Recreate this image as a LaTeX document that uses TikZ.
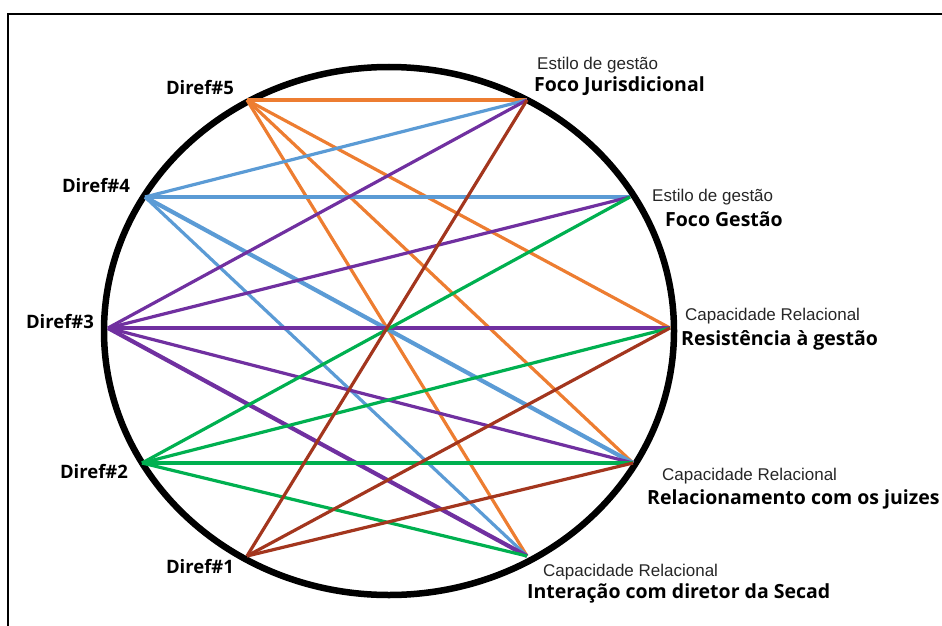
\documentclass[tikz,border=0pt]{standalone}
\usepackage{fontspec}
\setmainfont{Liberation Sans}
\setsansfont{Open Sans}

\definecolor{laranja}{HTML}{ED7D31}
\definecolor{azul}{HTML}{5B9BD5}
\definecolor{roxo}{HTML}{7030A0}
\definecolor{verde}{HTML}{00B050}
\definecolor{vinho}{HTML}{A3361E}

\begin{document}
\begin{tikzpicture}[x=1pt,y=-1pt,
    diref/.style={inner sep=0pt, font=\sffamily\bfseries\fontsize{18.5}{22}\selectfont},
    tema/.style={inner sep=0pt, anchor=west, text=black!85, font=\fontsize{17}{20}\selectfont},
    foco/.style={inner sep=0pt, anchor=west, font=\sffamily\bfseries\fontsize{19.5}{23}\selectfont},
    lig/.style={line width=3.2pt},
    ligforte/.style={line width=4.2pt}]
    \useasboundingbox (0,0) rectangle (942,626);

    % Moldura (so o topo e a esquerda aparecem)
    \draw[line width=2.2pt] (942,14) -- (8,14) -- (8,626);

    % Elipse
    \draw[line width=6.5pt] (389,331) ellipse [x radius=285pt, y radius=264pt];

    % Pontos sobre a elipse
    \coordinate (d5) at (247,100);
    \coordinate (d4) at (145,197);
    \coordinate (d3) at (108,328);
    \coordinate (d2) at (142,463);
    \coordinate (d1) at (247,556);
    \coordinate (fj) at (527,100);
    \coordinate (fg) at (630,197);
    \coordinate (rg) at (670,328);
    \coordinate (rj) at (633,463);
    \coordinate (is) at (527,556);

    % Ligacoes
    \foreach \b in {fj,rg,rj,is} \draw[lig, laranja] (d5) -- (\b);
    \foreach \b in {fj,fg,is} \draw[lig, azul] (d4) -- (\b);
    \draw[ligforte, azul] (d4) -- (rj);
    \foreach \b in {fj,fg,rg,rj} \draw[lig, roxo] (d3) -- (\b);
    \draw[ligforte, roxo] (d3) -- (is);
    \foreach \b in {fg,rg,is} \draw[lig, verde] (d2) -- (\b);
    \draw[ligforte, verde] (d2) -- (rj);
    \foreach \b in {fj,rg,rj} \draw[lig, vinho] (d1) -- (\b);

    % Rotulos da esquerda
    \node[diref] (l5) at (200,88) {Diref\#5};
    \node[diref] (l4) at (96,186) {Diref\#4};
    \node[diref] (l3) at (60,322) {Diref\#3};
    \node[diref] (l2) at (94,472) {Diref\#2};
    \node[diref] (l1) at (200,567) {Diref\#1};

    % Rotulos da direita
    \node[tema] (t1) at (537,65) {Estilo de gestão};
    \node[foco] (f1) at (534,86) {Foco Jurisdicional};
    \node[tema] (t2) at (652,197) {Estilo de gestão};
    \node[foco] (f2) at (665,219) {Foco Gestão};
    \node[tema] (t3) at (685,316) {Capacidade Relacional};
    \node[foco] (f3) at (681,340) {Resistência à gestão};
    \node[tema] (t4) at (662,476) {Capacidade Relacional};
    \node[foco] (f4) at (647,499) {Relacionamento com os juizes};
    \node[tema] (t5) at (543,572) {Capacidade Relacional};
    \node[foco] (f5) at (527,593) {Interação com diretor da Secad};
\end{tikzpicture}
\end{document}
